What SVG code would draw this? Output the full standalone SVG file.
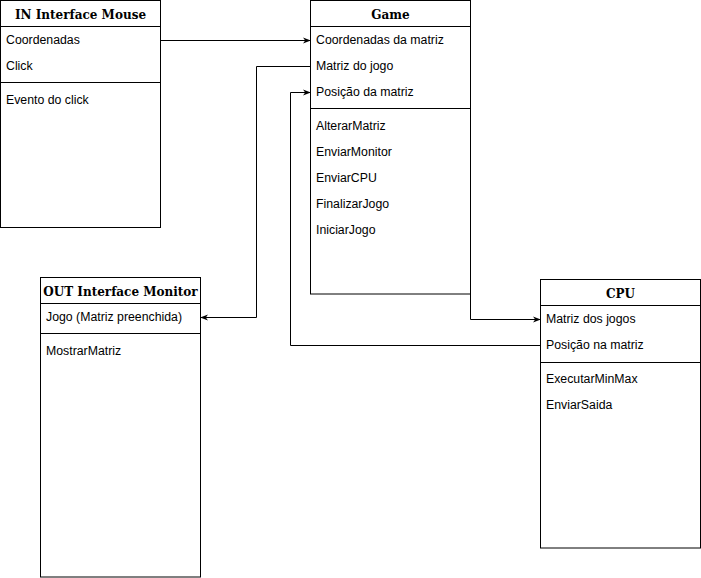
<svg xmlns="http://www.w3.org/2000/svg" width="701" height="578" viewBox="0 0 701 578">
<style>
.box{fill:#fff;stroke:#000;stroke-width:1}
.ln{stroke:#000;stroke-width:1;fill:none}
.t{font-family:"DejaVu Serif","Liberation Serif",serif;font-weight:bold;font-size:12px;text-anchor:middle;fill:#000}
.i{font-family:"Liberation Sans",Arial,Helvetica,sans-serif;font-size:12.3px;fill:#000}
.c{stroke:#000;stroke-width:1;fill:none;marker-end:url(#a)}
</style>
<defs>
<marker id="a" viewBox="0 0 10 10" refX="9" refY="5" markerWidth="8" markerHeight="8" markerUnits="userSpaceOnUse" orient="auto">
<path d="M0,1 L10,5 L0,9 L3,5 Z" fill="#000"/>
</marker>
</defs>
<g id="in-mouse">
<rect class="box" x="0.5" y="0.5" width="160" height="227"/>
<line class="ln" x1="0.5" y1="26.5" x2="160.5" y2="26.5"/>
<line class="ln" x1="0.5" y1="82.5" x2="160.5" y2="82.5"/>
<text class="t" x="80.5" y="18.5">IN Interface Mouse</text>
<text class="i" x="6" y="44">Coordenadas</text>
<text class="i" x="6" y="70">Click</text>
<text class="i" x="6" y="104">Evento do click</text>
</g>
<g id="game">
<rect class="box" x="310.5" y="0.5" width="160" height="293.5"/>
<line class="ln" x1="310.5" y1="26.5" x2="470.5" y2="26.5"/>
<line class="ln" x1="310.5" y1="108.5" x2="470.5" y2="108.5"/>
<text class="t" x="390.5" y="18.5">Game</text>
<text class="i" x="316" y="44">Coordenadas da matriz</text>
<text class="i" x="316" y="70">Matriz do jogo</text>
<text class="i" x="316" y="96">Posição da matriz</text>
<text class="i" x="316" y="130">AlterarMatriz</text>
<text class="i" x="316" y="156">EnviarMonitor</text>
<text class="i" x="316" y="182">EnviarCPU</text>
<text class="i" x="316" y="208">FinalizarJogo</text>
<text class="i" x="316" y="234">IniciarJogo</text>
</g>
<g id="out-monitor">
<rect class="box" x="40.5" y="277.5" width="160" height="299.5"/>
<line class="ln" x1="40.5" y1="303.5" x2="200.5" y2="303.5"/>
<line class="ln" x1="40.5" y1="333.5" x2="200.5" y2="333.5"/>
<text class="t" x="120.5" y="295.5">OUT Interface Monitor</text>
<text class="i" x="46" y="321">Jogo (Matriz preenchida)</text>
<text class="i" x="46" y="355">MostrarMatriz</text>
</g>
<g id="cpu">
<rect class="box" x="540.5" y="279.5" width="160" height="268.5"/>
<line class="ln" x1="540.5" y1="305.5" x2="700.5" y2="305.5"/>
<line class="ln" x1="540.5" y1="362.5" x2="700.5" y2="362.5"/>
<text class="t" x="620.5" y="297.5">CPU</text>
<text class="i" x="546" y="323">Matriz dos jogos</text>
<text class="i" x="546" y="349">Posição na matriz</text>
<text class="i" x="546" y="383">ExecutarMinMax</text>
<text class="i" x="546" y="409">EnviarSaida</text>
</g>
<g id="connectors">
<path class="c" d="M160.5,40.5 H310"/>
<path class="c" d="M310.5,66.5 H256.5 V317.5 H201"/>
<path class="c" d="M540.5,345.5 H290.5 V92.5 H310"/>
<path class="c" d="M470.5,294 V319.5 H540"/>
</g>
</svg>
